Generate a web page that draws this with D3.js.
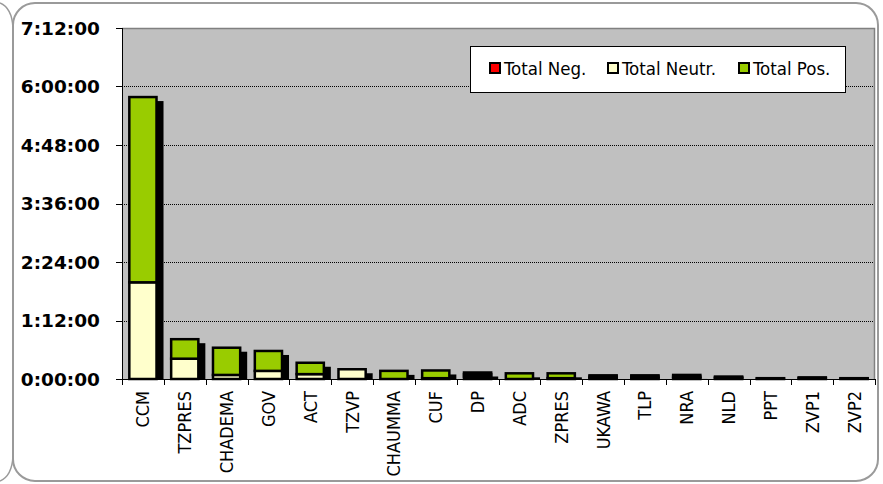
<!DOCTYPE html>
<html>
<head>
<meta charset="utf-8">
<script src="https://cdn.jsdelivr.net/npm/d3@7"></script>
<style>
  html, body { margin: 0; padding: 0; background: #fff; }
  svg { display: block; }
</style>
</head>
<body>
<div id="chart"></div>
<script>
// durations in minutes
const categories = ["CCM", "TZPRES", "CHADEMA", "GOV", "ACT", "TZVP", "CHAUMMA", "CUF", "DP",
  "ADC", "ZPRES", "UKAWA", "TLP", "NRA", "NLD", "PPT", "ZVP1", "ZVP2"];
const totalNeg   = [0, 0, 0,   0,    0,  0,  0, 0,   3, 0, 0, 1,   1,   1, 1, 0,   0, 0];
const totalNeutr = [119, 25, 5, 10,  6, 12,  0, 1,   3, 0, 1, 2,   2,   2, 1, 0.5, 1, 0.5];
const totalPos   = [228, 24, 33.5, 24.5, 14, 0, 10, 9.5, 2, 7, 6, 1.5, 1.5, 2, 1, 0.5, 1, 0.5];
const seriesNames = ["Total Neg.", "Total Neutr.", "Total Pos."];
const seriesColors = ["#ff0000", "#ffffcc", "#99cc00"];
const yTicks = [0, 72, 144, 216, 288, 360, 432];

const width = 883, height = 484;
const plotL = 122, plotR = 875, plotT = 28, plotB = 379;

const svg = d3.select("#chart").append("svg")
  .attr("width", width)
  .attr("height", height);

// chart frame
svg.append("rect")
  .attr("x", 13).attr("y", 3)
  .attr("width", 865).attr("height", 478)
  .attr("rx", 22).attr("ry", 22)
  .attr("fill", "#fff")
  .attr("stroke", "#9a9a9a")
  .attr("stroke-width", 2);
svg.append("path")
  .attr("d", "M0,3 Q12,8 13,28 M13,456 Q12,476 0,481")
  .attr("fill", "none")
  .attr("stroke", "#9a9a9a")
  .attr("stroke-width", 1.5);

const x = d3.scaleBand()
  .domain(categories)
  .range([plotL, plotR])
  .paddingInner(0.35)
  .paddingOuter(0.175);

const y = d3.scaleLinear()
  .domain([0, 432])
  .range([plotB, plotT]);

// plot area
svg.append("rect")
  .attr("x", plotL).attr("y", plotT)
  .attr("width", plotR - plotL).attr("height", plotB - plotT)
  .attr("fill", "#c0c0c0");

svg.append("g")
  .selectAll("line")
  .data(yTicks.filter(d => d > 0 && d < 432))
  .join("line")
  .attr("x1", plotL).attr("x2", plotR)
  .attr("y1", d => Math.round(y(d)) + 0.5)
  .attr("y2", d => Math.round(y(d)) + 0.5)
  .attr("stroke", "#000")
  .attr("stroke-dasharray", "1,1");

svg.append("path")
  .attr("d", `M${plotL},${plotT + 0.5}H${plotR - 0.5}V${plotB}`)
  .attr("fill", "none")
  .attr("stroke", "#808080")
  .attr("stroke-width", 1.5);

// stacked data
const rows = categories.map((c, i) => ({
  name: c, neg: totalNeg[i], neutr: totalNeutr[i], pos: totalPos[i]
}));
const stack = d3.stack().keys(["neg", "neutr", "pos"])(rows);

// shadows
svg.append("clipPath").attr("id", "plotclip")
  .append("rect").attr("x", plotL).attr("y", plotT)
  .attr("width", plotR - plotL).attr("height", plotB - plotT);

svg.append("g")
  .attr("clip-path", "url(#plotclip)")
  .selectAll("rect")
  .data(rows)
  .join("rect")
  .attr("x", d => x(d.name) + 7)
  .attr("y", d => y(d.neg + d.neutr + d.pos) + 4)
  .attr("width", x.bandwidth())
  .attr("height", d => plotB - y(d.neg + d.neutr + d.pos))
  .attr("fill", "#000");

svg.append("g")
  .selectAll("g")
  .data(stack)
  .join("g")
  .attr("fill", (d, i) => seriesColors[i])
  .selectAll("rect")
  .data(d => d.filter(s => s[1] - s[0] > 0))
  .join("rect")
  .attr("x", d => x(d.data.name))
  .attr("y", d => y(d[1]))
  .attr("width", x.bandwidth())
  .attr("height", d => y(d[0]) - y(d[1]))
  .attr("stroke", "#000")
  .attr("stroke-width", 2.5);

// axes
const fmt = m => `${Math.floor(m / 60)}:${String(m % 60).padStart(2, "0")}:00`;

svg.append("line")
  .attr("x1", plotL + 0.5).attr("x2", plotL + 0.5)
  .attr("y1", plotT).attr("y2", plotB)
  .attr("stroke", "#000");
svg.append("line")
  .attr("x1", plotL).attr("x2", plotR)
  .attr("y1", plotB + 0.5).attr("y2", plotB + 0.5)
  .attr("stroke", "#000");

const yAxis = svg.append("g");
yAxis.selectAll("line")
  .data(yTicks)
  .join("line")
  .attr("x1", plotL - 6).attr("x2", plotL)
  .attr("y1", d => Math.round(y(d)) + 0.5)
  .attr("y2", d => Math.round(y(d)) + 0.5)
  .attr("stroke", "#000");
yAxis.selectAll("text")
  .data(yTicks)
  .join("text")
  .attr("x", 100)
  .attr("y", d => y(d))
  .attr("dy", "0.36em")
  .attr("text-anchor", "end")
  .attr("font-family", "'DejaVu Sans', Verdana, sans-serif")
  .attr("font-weight", "bold")
  .attr("font-size", 18.5)
  .text(fmt);

const step = x.step();
svg.append("g")
  .selectAll("line")
  .data(d3.range(categories.length + 1))
  .join("line")
  .attr("x1", i => Math.round(plotL + i * step) + 0.5)
  .attr("x2", i => Math.round(plotL + i * step) + 0.5)
  .attr("y1", plotB).attr("y2", plotB + 6)
  .attr("stroke", "#000");

svg.append("g")
  .selectAll("text")
  .data(categories)
  .join("text")
  .attr("transform", d => `translate(${x(d) + x.bandwidth() / 2},391) rotate(-90)`)
  .attr("dy", "0.36em")
  .attr("text-anchor", "end")
  .attr("font-family", "'DejaVu Sans Condensed', 'DejaVu Sans', sans-serif")
  .attr("font-stretch", "condensed")
  .attr("font-size", 18)
  .text(d => d);

// legend
const legend = svg.append("g");
legend.append("rect")
  .attr("x", 470.5).attr("y", 46.5)
  .attr("width", 375).attr("height", 46)
  .attr("fill", "#fff")
  .attr("stroke", "#000");
const legendX = [489, 607, 738];
seriesNames.forEach((name, i) => {
  legend.append("rect")
    .attr("x", legendX[i] + 1).attr("y", 63)
    .attr("width", 10).attr("height", 10)
    .attr("fill", seriesColors[i])
    .attr("stroke", "#000")
    .attr("stroke-width", 2);
  legend.append("text")
    .attr("x", legendX[i] + 15)
    .attr("y", 74.5)
    .attr("font-family", "'DejaVu Sans Condensed', 'DejaVu Sans', sans-serif")
    .attr("font-stretch", "condensed")
    .attr("font-size", 18.5)
    .text(name);
});
</script>
</body>
</html>
